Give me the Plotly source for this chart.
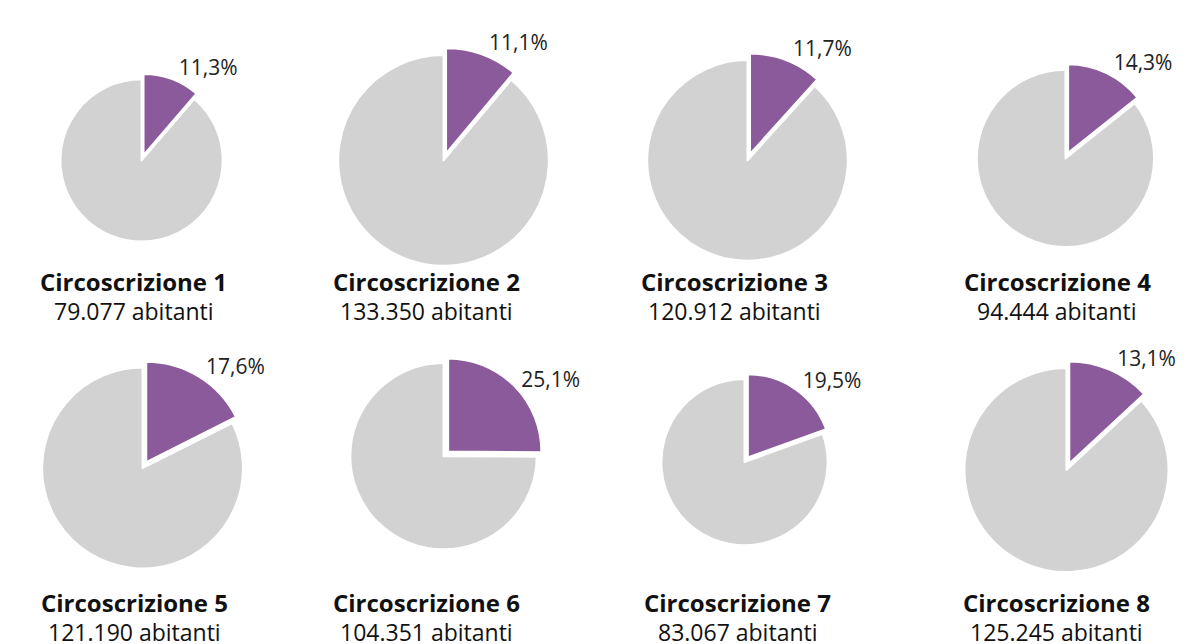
import plotly.graph_objects as go

# === DATA ===
names = ["Circoscrizione 1", "Circoscrizione 2", "Circoscrizione 3", "Circoscrizione 4",
         "Circoscrizione 5", "Circoscrizione 6", "Circoscrizione 7", "Circoscrizione 8"]
abitanti = [79077, 133350, 120912, 94444, 121190, 104351, 83067, 125245]
abitanti_label = ["79.077", "133.350", "120.912", "94.444", "121.190", "104.351", "83.067", "125.245"]
quota = [11.3, 11.1, 11.7, 14.3, 17.6, 25.1, 19.5, 13.1]
quota_label = ["11,3%", "11,1%", "11,7%", "14,3%", "17,6%", "25,1%", "19,5%", "13,1%"]

# === LAYOUT ===
W, H = 1189, 644
OFF = 8  # page body margin of the exported html
color_hi = "#8A5A9B"
color_rest = "#D2D2D2"
font = "Open Sans"
pull = 0.07
r_base = 82  # px radius of the smallest pie (Circoscrizione 1)
pie_cx = [142, 445, 750, 1069, 143, 445, 747, 1070]
pie_cy = [155, 155, 155, 153, 466, 454, 460, 468]
label_cx = [134, 428, 737, 1061, 135, 428, 740, 1060]
label_y = [277, 277, 277, 277, 602, 602, 602, 602]

fig = go.Figure()
for i in range(8):
    r = r_base * (abitanti[i] / abitanti[0]) ** 0.5
    hs = r * (1 + pull)
    cx, cy = pie_cx[i] - OFF, pie_cy[i] - OFF
    fig.add_trace(go.Pie(
        values=[quota[i], 100 - quota[i]],
        text=[quota_label[i], ""],
        textinfo="text",
        textposition=["outside", "none"],
        outsidetextfont=dict(family=font, size=21, color="#222"),
        marker=dict(colors=[color_hi, color_rest], line=dict(color="white", width=2)),
        pull=[pull, 0],
        sort=False,
        direction="clockwise",
        rotation=0,
        hoverinfo="skip",
        showlegend=False,
        domain=dict(x=[(cx - hs) / W, (cx + hs) / W],
                    y=[(H - cy - hs) / H, (H - cy + hs) / H]),
    ))
    lx = (label_cx[i] - OFF) / W
    ly = label_y[i] - OFF
    fig.add_annotation(x=lx, y=1 - ly / H, xref="paper", yref="paper",
                       xanchor="center", yanchor="middle",
                       text=f"<b>{names[i]}</b>", showarrow=False,
                       font=dict(family=font, size=24, color="#111"))
    fig.add_annotation(x=lx, y=1 - (ly + 30) / H, xref="paper", yref="paper",
                       xanchor="center", yanchor="middle",
                       text=f"{abitanti_label[i]} abitanti", showarrow=False,
                       font=dict(family=font, size=23, color="#111"))

fig.update_layout(
    width=W, height=H,
    margin=dict(l=0, r=0, t=0, b=0),
    paper_bgcolor="white",
    plot_bgcolor="white",
)

fig.write_html("out.html")
